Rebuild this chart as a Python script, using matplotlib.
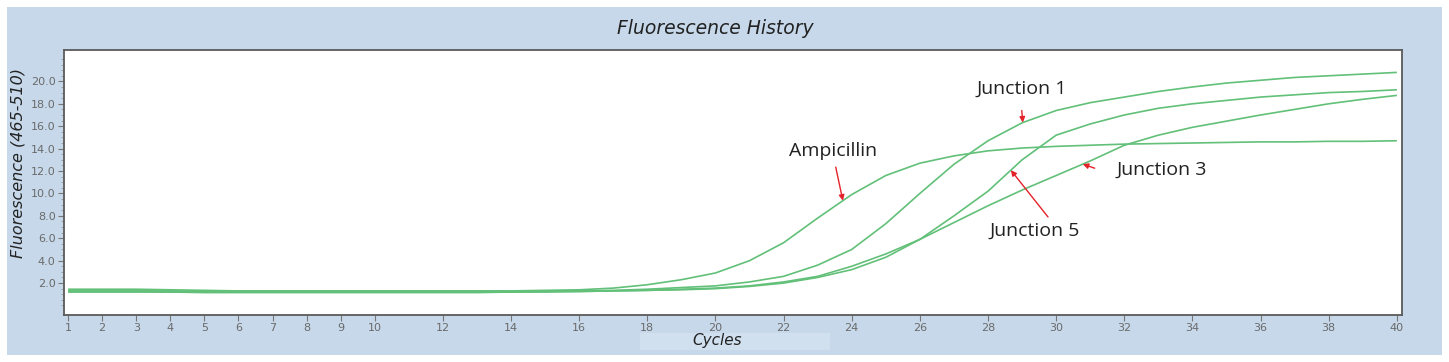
import numpy as np
import matplotlib.pyplot as plt
from matplotlib.patches import Rectangle

# data
cycles = np.arange(1, 41)
ampicillin = [1.45, 1.45, 1.45, 1.4, 1.35, 1.3, 1.3, 1.3, 1.3, 1.3,
              1.3, 1.3, 1.3, 1.3, 1.35, 1.4, 1.55, 1.85, 2.3, 2.9,
              4.0, 5.6, 7.8, 9.9, 11.6, 12.7, 13.35, 13.8, 14.05, 14.2,
              14.3, 14.4, 14.45, 14.5, 14.55, 14.6, 14.6, 14.65, 14.65, 14.7]
junction1 = [1.3, 1.3, 1.3, 1.3, 1.25, 1.25, 1.25, 1.25, 1.25, 1.25,
             1.25, 1.25, 1.25, 1.25, 1.3, 1.3, 1.35, 1.45, 1.6, 1.75,
             2.1, 2.6, 3.6, 5.0, 7.3, 10.0, 12.6, 14.7, 16.3, 17.4,
             18.1, 18.6, 19.1, 19.5, 19.85, 20.1, 20.35, 20.5, 20.65, 20.8]
junction3 = [1.25, 1.25, 1.25, 1.2, 1.2, 1.2, 1.2, 1.2, 1.2, 1.2,
             1.2, 1.2, 1.2, 1.2, 1.25, 1.25, 1.3, 1.35, 1.45, 1.55,
             1.75, 2.1, 2.6, 3.5, 4.6, 5.9, 7.4, 8.9, 10.3, 11.6,
             12.9, 14.3, 15.2, 15.9, 16.45, 17.0, 17.5, 18.0, 18.4, 18.75]
junction5 = [1.2, 1.2, 1.2, 1.2, 1.15, 1.15, 1.15, 1.15, 1.15, 1.15,
             1.15, 1.15, 1.15, 1.2, 1.2, 1.25, 1.3, 1.35, 1.4, 1.5,
             1.7, 2.0, 2.5, 3.2, 4.3, 5.9, 8.0, 10.2, 13.0, 15.2,
             16.2, 17.0, 17.6, 18.0, 18.3, 18.6, 18.8, 19.0, 19.1, 19.25]
xtick_vals = [1, 2, 3, 4, 5, 6, 7, 8, 9, 10, 12, 14, 16, 18, 20, 22, 24, 26,
              28, 30, 32, 34, 36, 38, 40]
ytick_vals = [2, 4, 6, 8, 10, 12, 14, 16, 18, 20]

W, H = 1449, 362
fig = plt.figure(figsize=(W / 100, H / 100), dpi=100)
fig.patch.set_facecolor('white')

# blue panel
fig.patches.append(Rectangle((7 / W, 1 - 355 / H), 1435 / W, 348 / H,
                             transform=fig.transFigure, facecolor='#c6d8ea',
                             edgecolor='none', zorder=-2))
# lighter strip behind the x label
fig.patches.append(Rectangle((640 / W, 1 - 350 / H), 190 / W, 17 / H,
                             transform=fig.transFigure, facecolor='#d0e0ef',
                             edgecolor='none', zorder=-1))

ax = fig.add_axes([64 / W, 1 - 315 / H, (1402 - 64) / W, (315 - 50) / H])
ax.set_zorder(2)
ax.set_facecolor('white')

green = '#62c079'
for series in (ampicillin, junction1, junction3, junction5):
    ax.plot(cycles, series, color=green, lw=1.2, solid_capstyle='butt')

ax.set_xlim(0.88, 40.15)
ax.set_ylim(-0.85, 22.8)
ax.set_xticks(xtick_vals)
ax.set_xticklabels([str(v) for v in xtick_vals])
ax.set_yticks(ytick_vals)
ax.set_yticklabels(['%.1f' % v for v in ytick_vals])
ax.set_yticks(np.arange(0, 22.5, 0.5), minor=True)
ax.tick_params(axis='both', which='major', direction='out', length=4,
               width=0.8, color='#777777', labelcolor='#6a6a6a', labelsize=8,
               pad=2)
ax.tick_params(axis='y', which='minor', direction='out', length=2,
               width=0.6, color='#999999')
for sp in ax.spines.values():
    sp.set_color('#5a5a5a')
    sp.set_linewidth(1.3)

fig.text(715 / W, 1 - 28 / H, 'Fluorescence History', ha='center', va='center',
         fontsize=13.5, style='italic', family='DejaVu Sans', color='#222222')
fig.text(18 / W, 1 - 163 / H, 'Fluorescence (465-510)', ha='center', va='center',
         rotation=90, fontsize=11.5, style='italic', family='DejaVu Sans',
         color='#222222')
fig.text(717 / W, 1 - 341 / H, 'Cycles', ha='center', va='center',
         fontsize=11, style='italic', family='DejaVu Sans', color='#222222')

# labels with red arrows pointing at the curves
arrow = dict(arrowstyle='-|>', color='#e4232b', lw=1.0, mutation_scale=8,
             shrinkA=0, shrinkB=0)
labels = [
    ('Ampicillin', ampicillin, 23.74, (23.45, 13.76), (23.53, 12.35)),
    ('Junction 1', junction1, 29.02, (28.99, 19.38), (28.99, 17.4)),
    ('Junction 3', junction3, 30.78, (33.10, 12.08), (31.13, 12.25)),
    ('Junction 5', junction5, 28.67, (29.37, 6.63), (29.76, 7.9)),
]
for name, series, cx, txt_xy, start_xy in labels:
    tip = (cx, np.interp(cx, cycles, series))
    ax.annotate('', xy=tip, xytext=start_xy, arrowprops=arrow)
    ax.text(txt_xy[0], txt_xy[1], name, ha='center', va='center',
            fontsize=14, family='Open Sans', color='#222222')

fig.savefig('out.png', dpi=100, facecolor='white')
